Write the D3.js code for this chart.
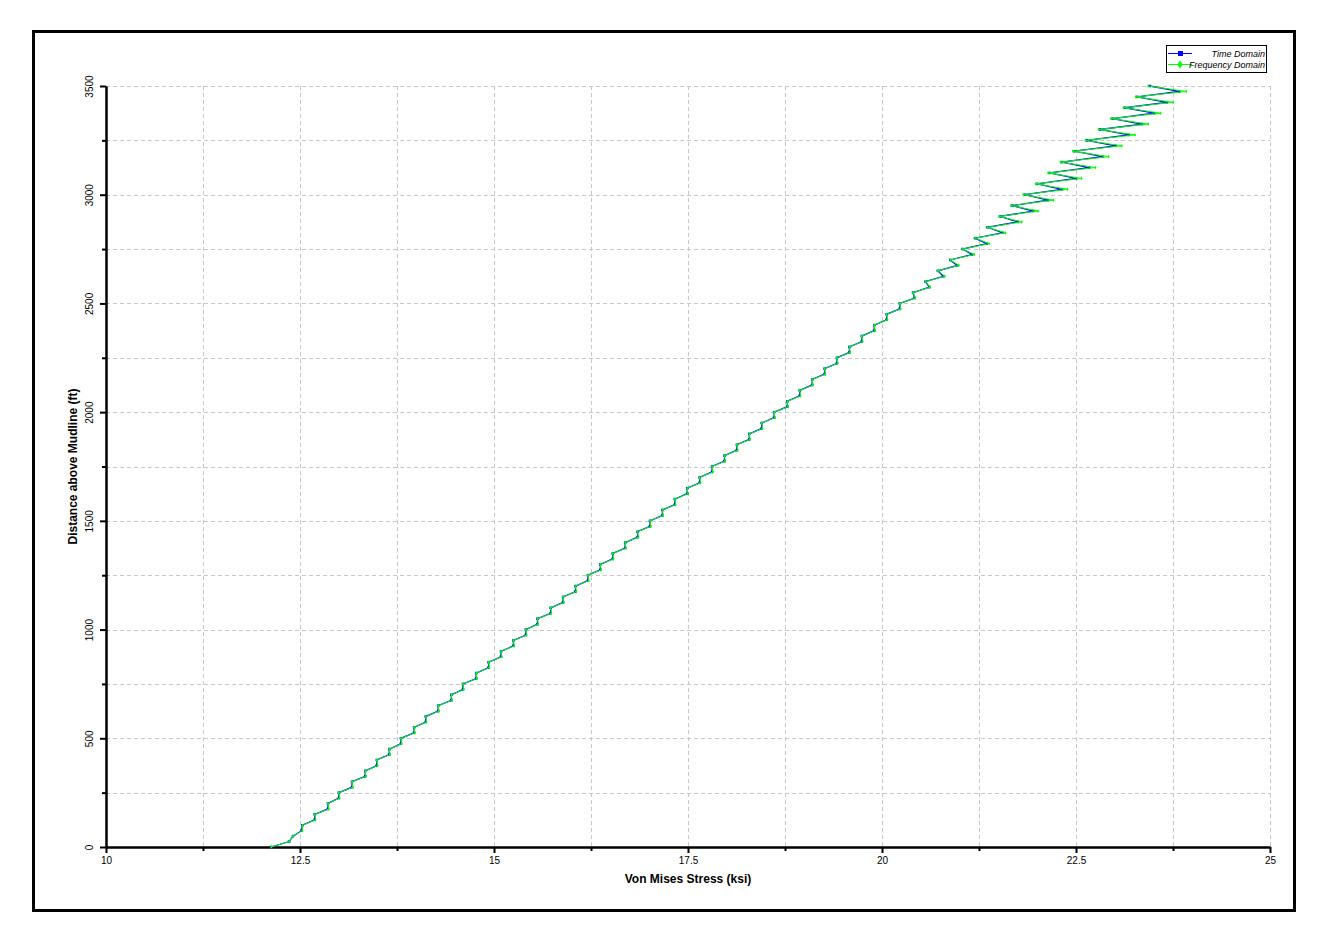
<!DOCTYPE html>
<html>
<head>
<meta charset="utf-8">
<script src="https://cdn.jsdelivr.net/npm/d3@7"></script>
<style>
  html, body { margin: 0; padding: 0; background: #ffffff; }
  svg { display: block; }
  text { font-family: "Liberation Sans", Arial, sans-serif; }
</style>
</head>
<body>
<svg id="chart" width="1326" height="942"></svg>
<script>
// ---------------- DATA ----------------
const seriesNames = ["Time Domain", "Frequency Domain"];
const seriesColors = ["#0000ff", "#00ff00"];

// Distance above mudline (ft), shared by both series
const heights = [
  0, 25, 50, 75, 100, 125, 150, 175, 200, 225, 250, 275, 300, 325, 350, 375, 400, 425, 450, 475,
  500, 525, 550, 575, 600, 625, 650, 675, 700, 725, 750, 775, 800, 825, 850, 875, 900, 925, 950, 975,
  1000, 1025, 1050, 1075, 1100, 1125, 1150, 1175, 1200, 1225, 1250, 1275, 1300, 1325, 1350, 1375, 1400, 1425, 1450, 1475,
  1500, 1525, 1550, 1575, 1600, 1625, 1650, 1675, 1700, 1725, 1750, 1775, 1800, 1825, 1850, 1875, 1900, 1925, 1950, 1975,
  2000, 2025, 2050, 2075, 2100, 2125, 2150, 2175, 2200, 2225, 2250, 2275, 2300, 2325, 2350, 2375, 2400, 2425, 2450, 2475,
  2500, 2525, 2550, 2575, 2600, 2625, 2650, 2675, 2700, 2725, 2750, 2775, 2800, 2825, 2850, 2875, 2900, 2925, 2950, 2975,
  3000, 3025, 3050, 3075, 3100, 3125, 3150, 3175, 3200, 3225, 3250, 3275, 3300, 3325, 3350, 3375, 3400, 3425, 3450, 3475,
  3500
];

// Von Mises stress (ksi) - Time Domain
const timeDomain = [
  12.13, 12.36, 12.41, 12.52, 12.53, 12.69, 12.69, 12.86, 12.86, 13.00, 13.00, 13.17, 13.17, 13.34, 13.34, 13.49, 13.49, 13.65, 13.65, 13.80,
  13.80, 13.97, 13.97, 14.12, 14.12, 14.28, 14.28, 14.45, 14.45, 14.60, 14.60, 14.77, 14.77, 14.93, 14.93, 15.09, 15.09, 15.25, 15.25, 15.41,
  15.41, 15.56, 15.56, 15.73, 15.73, 15.89, 15.89, 16.05, 16.05, 16.21, 16.21, 16.37, 16.37, 16.53, 16.53, 16.69, 16.69, 16.85, 16.85, 17.01,
  17.01, 17.17, 17.17, 17.33, 17.33, 17.49, 17.49, 17.65, 17.65, 17.81, 17.81, 17.97, 17.97, 18.13, 18.13, 18.29, 18.29, 18.45, 18.45, 18.61,
  18.61, 18.78, 18.78, 18.94, 18.94, 19.10, 19.10, 19.26, 19.26, 19.42, 19.42, 19.58, 19.58, 19.74, 19.74, 19.90, 19.90, 20.06, 20.06, 20.23,
  20.23, 20.42, 20.40, 20.61, 20.56, 20.79, 20.72, 20.97, 20.88, 21.16, 21.04, 21.35, 21.20, 21.55, 21.36, 21.75, 21.52, 21.95, 21.68, 22.14,
  21.84, 22.32, 22.00, 22.50, 22.16, 22.67, 22.32, 22.84, 22.48, 23.01, 22.64, 23.18, 22.81, 23.35, 22.97, 23.51, 23.13, 23.67, 23.29, 23.83,
  23.45
];

// Von Mises stress (ksi) - Frequency Domain
const frequencyDomain = [
  12.13, 12.36, 12.41, 12.53, 12.53, 12.70, 12.69, 12.87, 12.86, 13.01, 13.00, 13.18, 13.17, 13.35, 13.34, 13.50, 13.49, 13.66, 13.65, 13.81,
  13.80, 13.98, 13.97, 14.13, 14.12, 14.29, 14.28, 14.46, 14.45, 14.61, 14.60, 14.78, 14.77, 14.94, 14.93, 15.10, 15.09, 15.26, 15.25, 15.42,
  15.41, 15.57, 15.56, 15.74, 15.73, 15.90, 15.89, 16.06, 16.05, 16.22, 16.21, 16.38, 16.37, 16.54, 16.53, 16.70, 16.69, 16.86, 16.85, 17.02,
  17.01, 17.18, 17.17, 17.34, 17.33, 17.50, 17.49, 17.66, 17.65, 17.82, 17.81, 17.98, 17.97, 18.14, 18.13, 18.30, 18.29, 18.46, 18.45, 18.62,
  18.61, 18.79, 18.78, 18.95, 18.94, 19.11, 19.10, 19.27, 19.26, 19.43, 19.42, 19.59, 19.58, 19.75, 19.74, 19.91, 19.90, 20.07, 20.06, 20.24,
  20.23, 20.43, 20.40, 20.62, 20.56, 20.81, 20.72, 20.99, 20.88, 21.19, 21.04, 21.38, 21.20, 21.59, 21.36, 21.80, 21.51, 22.01, 21.66, 22.21,
  21.82, 22.39, 21.98, 22.57, 22.14, 22.75, 22.30, 22.92, 22.46, 23.09, 22.62, 23.26, 22.79, 23.43, 22.95, 23.59, 23.11, 23.75, 23.27, 23.92,
  23.43
];

// Axis ticks
const xMajorTicks = [10, 12.5, 15, 17.5, 20, 22.5, 25];
const xMajorLabels = ["10", "12.5", "15", "17.5", "20", "22.5", "25"];
const xMinorTicks = [11.25, 13.75, 16.25, 18.75, 21.25, 23.75];
const xGridTicks = [11.25, 12.5, 13.75, 15, 16.25, 17.5, 18.75, 20, 21.25, 22.5, 23.75, 25];
const yMajorTicks = [0, 500, 1000, 1500, 2000, 2500, 3000, 3500];
const yMajorLabels = ["0", "500", "1000", "1500", "2000", "2500", "3000", "3500"];
const yMinorTicks = [250, 750, 1250, 1750, 2250, 2750, 3250];
const yGridTicks = [250, 500, 750, 1000, 1250, 1500, 1750, 2000, 2250, 2500, 2750, 3000, 3250, 3500];

const xTitle = "Von Mises Stress (ksi)";
const yTitle = "Distance above Mudline (ft)";

// ---------------- CHART ----------------
const svg = d3.select("#chart");
const plot = { left: 106, right: 1270, top: 86, bottom: 847 };

const x = d3.scaleLinear().domain([10, 25]).range([plot.left, plot.right]);
const y = d3.scaleLinear().domain([0, 3500]).range([plot.bottom, plot.top]);

// outer frame
svg.append("rect")
  .attr("x", 33.5).attr("y", 31.5).attr("width", 1261).attr("height", 879)
  .attr("fill", "#ffffff").attr("stroke", "#000").attr("stroke-width", 3);

// grid
const grid = svg.append("g").attr("stroke", "#c8c8c8").attr("stroke-width", 1)
  .attr("stroke-dasharray", "4,3").attr("shape-rendering", "crispEdges");
grid.selectAll("line.vx").data(xGridTicks).join("line")
  .attr("x1", d => Math.round(x(d)) + 0.5).attr("x2", d => Math.round(x(d)) + 0.5)
  .attr("y1", plot.top).attr("y2", plot.bottom);
grid.selectAll("line.hy").data(yGridTicks).join("line")
  .attr("x1", plot.left).attr("x2", plot.right)
  .attr("y1", d => Math.round(y(d)) + 0.5).attr("y2", d => Math.round(y(d)) + 0.5);

// axes
function styleAxis(g) {
  g.select(".domain").attr("stroke", "#000").attr("stroke-width", 2);
  g.selectAll(".tick line").attr("stroke", "#000").attr("stroke-width", 2);
  g.selectAll(".tick text").attr("fill", "#000").attr("font-size", 10)
    .attr("font-family", "'Liberation Sans', Arial, sans-serif");
}

const xAxisMinor = d3.axisBottom(x).tickValues(xMinorTicks).tickSize(4).tickSizeOuter(0).tickFormat("");
svg.append("g").attr("transform", `translate(0,${plot.bottom})`).call(xAxisMinor).call(styleAxis);
const xAxis = d3.axisBottom(x).tickValues(xMajorTicks).tickSize(6).tickSizeOuter(0)
  .tickFormat((d, i) => xMajorLabels[i]).tickPadding(4);
svg.append("g").attr("transform", `translate(0,${plot.bottom})`).call(xAxis).call(styleAxis);

const yAxisMinor = d3.axisLeft(y).tickValues(yMinorTicks).tickSize(4).tickSizeOuter(0).tickFormat("");
svg.append("g").attr("transform", `translate(${plot.left},0)`).call(yAxisMinor).call(styleAxis);
const yAxis = d3.axisLeft(y).tickValues(yMajorTicks).tickSize(6).tickSizeOuter(0)
  .tickFormat((d, i) => yMajorLabels[i]);
const yAxisG = svg.append("g").attr("transform", `translate(${plot.left},0)`).call(yAxis).call(styleAxis);
yAxisG.selectAll(".tick text")
  .attr("transform", "rotate(-90)")
  .attr("text-anchor", "middle")
  .attr("x", 0).attr("y", -13).attr("dy", "0");

// axis titles
svg.append("text").attr("x", (plot.left + plot.right) / 2).attr("y", 883)
  .attr("text-anchor", "middle").attr("font-size", 12).attr("font-weight", "bold").text(xTitle);
svg.append("text").attr("transform", `translate(77,${(plot.top + plot.bottom) / 2}) rotate(-90)`)
  .attr("text-anchor", "middle").attr("font-size", 12).attr("font-weight", "bold").text(yTitle);

// series
const seriesValues = [timeDomain, frequencyDomain];
const line = d3.line().x(d => x(d.s)).y(d => y(d.h));
const diamond = d3.symbol().type(d3.symbolDiamond).size(4);

seriesValues.forEach((vals, si) => {
  const pts = heights.map((h, i) => ({ h: h, s: vals[i] }));
  const g = svg.append("g");
  g.append("path").datum(pts).attr("d", line)
    .attr("fill", "none").attr("stroke", seriesColors[si]).attr("stroke-width", si === 0 ? 1.3 : 1);
  if (si === 0) {
    g.selectAll("rect").data(pts).join("rect")
      .attr("x", d => x(d.s) - 1.25).attr("y", d => y(d.h) - 1.25)
      .attr("width", 2.5).attr("height", 2.5).attr("fill", seriesColors[si]);
  } else {
    g.selectAll("path.m").data(pts).join("path").attr("class", "m")
      .attr("transform", d => `translate(${x(d.s)},${y(d.h)})`)
      .attr("d", diamond).attr("fill", seriesColors[si]);
  }
});

// legend
const lg = svg.append("g");
lg.append("rect").attr("x", 1166.5).attr("y", 45.5).attr("width", 100).attr("height", 27)
  .attr("fill", "#fff").attr("stroke", "#000").attr("stroke-width", 1);
const legendRows = [53.5, 64.5];
seriesNames.forEach((name, i) => {
  const yy = legendRows[i];
  lg.append("line").attr("x1", 1168).attr("x2", 1192).attr("y1", yy).attr("y2", yy)
    .attr("stroke", seriesColors[i]).attr("stroke-width", 1);
  if (i === 0) {
    lg.append("rect").attr("x", 1178).attr("y", yy - 2.5).attr("width", 5).attr("height", 5).attr("fill", seriesColors[i]);
  } else {
    lg.append("path").attr("transform", `translate(1180,${yy})`)
      .attr("d", d3.symbol().type(d3.symbolDiamond).size(22)).attr("fill", seriesColors[i]);
  }
  lg.append("text").attr("x", 1265).attr("y", yy + 3).attr("text-anchor", "end")
    .attr("font-size", 9).attr("font-style", "italic").attr("fill", "#000").text(name);
});
</script>
</body>
</html>
